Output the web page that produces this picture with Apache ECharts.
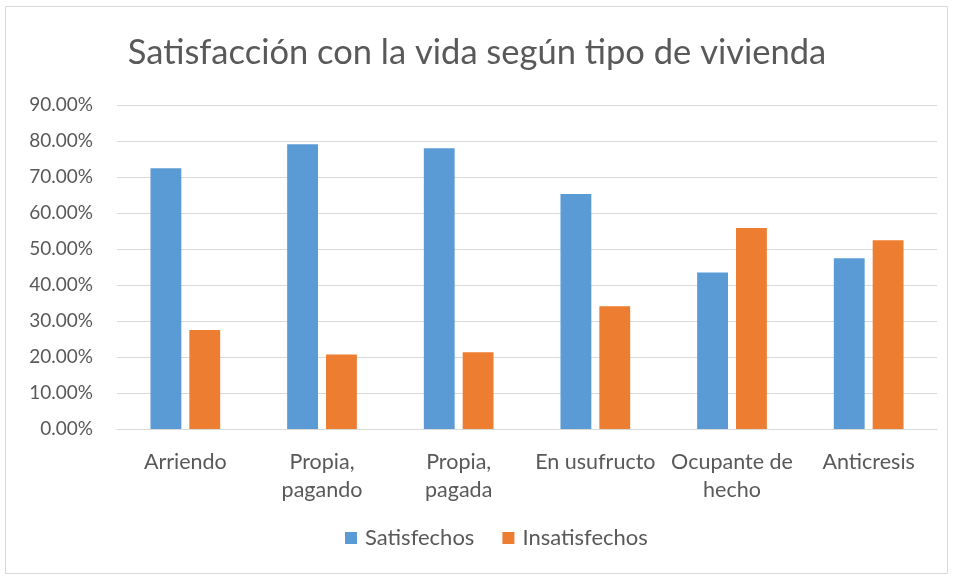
<!DOCTYPE html>
<html>
<head>
<meta charset="utf-8">
<script src="https://cdn.jsdelivr.net/npm/echarts@6/dist/echarts.min.js"></script>
<style>
  html, body { margin: 0; padding: 0; background: #fff; }
  #chart { width: 954px; height: 578px; }
</style>
</head>
<body>
<div id="chart"></div>
<script>
  const categories = ['Arriendo', 'Propia,\npagando', 'Propia,\npagada', 'En usufructo', 'Ocupante de\nhecho', 'Anticresis'];
  const satisfechos = [72.4, 79.1, 78.0, 65.3, 43.5, 47.4];
  const insatisfechos = [27.5, 20.7, 21.3, 34.1, 55.8, 52.4];

  const textColor = '#595959';
  const font = 'Lato';

  const myChart = echarts.init(document.getElementById('chart'));

  const option = {
    backgroundColor: '#fff',
    textStyle: { fontFamily: font },
    graphic: [
      {
        type: 'rect',
        shape: { x: 5.5, y: 6.5, width: 942, height: 567 },
        style: { fill: 'none', stroke: '#d9d9d9', lineWidth: 1 },
        silent: true
      }
    ],
    title: {
      text: 'Satisfacción con la vida según tipo de vivienda',
      left: 'center',
      top: 30,
      textStyle: {
        color: textColor,
        fontFamily: font,
        fontSize: 34.5,
        fontWeight: 'normal'
      }
    },
    legend: {
      data: ['Satisfechos', 'Insatisfechos'],
      bottom: 24,
      left: 340,
      itemWidth: 12,
      itemHeight: 12,
      itemGap: 28,
      icon: 'rect',
      textStyle: { color: textColor, fontSize: 22, fontFamily: font, padding: [0, 0, 0, 3] }
    },
    grid: {
      left: 117,
      right: 17,
      top: 105,
      bottom: 149
    },
    xAxis: {
      type: 'category',
      data: categories,
      axisTick: { show: false },
      axisLine: { lineStyle: { color: '#d9d9d9' } },
      axisLabel: {
        color: textColor,
        fontSize: 21.5,
        lineHeight: 28,
        margin: 19,
        interval: 0,
        fontFamily: font
      }
    },
    yAxis: {
      type: 'value',
      min: 0,
      max: 90,
      interval: 10,
      axisLine: { show: false },
      axisTick: { show: false },
      splitLine: { lineStyle: { color: '#d9d9d9' } },
      axisLabel: {
        color: textColor,
        fontSize: 19,
        margin: 24,
        fontFamily: font,
        formatter: function (v) { return v.toFixed(2) + '%'; }
      }
    },
    series: [
      {
        name: 'Satisfechos',
        type: 'bar',
        data: satisfechos,
        barGap: '26%',
        barCategoryGap: '49%',
        itemStyle: { color: '#5B9BD5' }
      },
      {
        name: 'Insatisfechos',
        type: 'bar',
        data: insatisfechos,
        itemStyle: { color: '#ED7D31' }
      }
    ]
  };

  myChart.setOption(option);
</script>
</body>
</html>
